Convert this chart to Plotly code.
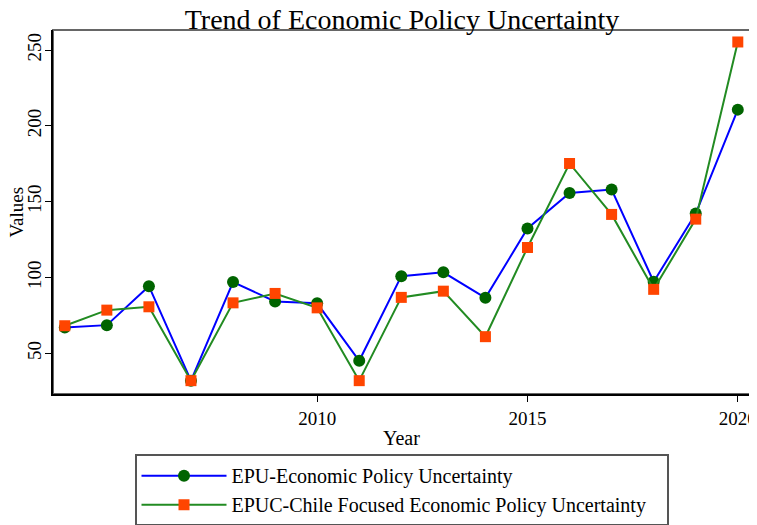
import plotly.graph_objects as go

years = list(range(2004, 2021))
epu = [67.1, 68.6, 94.3, 32.0, 97.0, 84.2, 83.0, 45.1, 100.9, 103.4, 86.6,
       132.3, 155.8, 158.0, 97.2, 142.2, 210.7]
epuc = [68.2, 78.5, 80.7, 32.0, 83.3, 89.5, 80.0, 32.0, 86.9, 91.0, 61.0,
        119.8, 175.2, 141.6, 92.2, 138.5, 255.3]

x_ticks = [2010, 2015, 2020]
y_ticks = [50, 100, 150, 200, 250]

font_family = "Liberation Serif, Times New Roman, serif"

fig = go.Figure()
fig.add_trace(go.Scatter(
    x=years, y=epu, mode="lines+markers",
    name="EPU-Economic Policy Uncertainty",
    line={"color": "#0000FF", "width": 2},
    marker={"color": "#006400", "size": 12, "symbol": "circle"},
))
fig.add_trace(go.Scatter(
    x=years, y=epuc, mode="lines+markers",
    name="EPUC-Chile Focused Economic Policy Uncertainty\u00a0\u00a0\u00a0",
    line={"color": "#228B22", "width": 2},
    marker={"color": "#FF4500", "size": 11, "symbol": "square"},
))

# grey frame on top/right, black axis lines on left/bottom
fig.add_shape(type="rect", xref="paper", yref="paper", x0=0, x1=1, y0=0, y1=1,
              line={"color": "#666666", "width": 2}, layer="below")

# axis titles as annotations so they don't push the margins
fig.add_annotation(text="Values", x=0, xref="paper", y=0.5, yref="paper",
                   xanchor="right", xshift=-25, textangle=-90, showarrow=False,
                   font={"size": 19})
fig.add_annotation(text="Year", x=0.5, xref="paper", y=0, yref="paper",
                   yanchor="top", yshift=-31, showarrow=False,
                   font={"size": 20})

# the page body adds an 8px offset, so the figure is 8px smaller than the window
fig.update_layout(
    width=749,
    height=517,
    font={"family": font_family, "color": "black", "size": 19},
    title={"text": "Trend of Economic Policy Uncertainty", "x": 0.526, "xanchor": "center",
           "y": 0.998, "yanchor": "top", "pad": {"t": 0}, "font": {"size": 28}},
    xaxis={
        "range": [2003.72, 2020.29],
        "tickvals": x_ticks,
        "tickfont": {"size": 19},
        "ticks": "outside", "ticklen": 6, "tickcolor": "black",
        "showline": True, "linecolor": "black", "linewidth": 2,
        "showgrid": False, "zeroline": False, "automargin": False,
    },
    yaxis={
        "range": [23.2, 263.2],
        "tickvals": y_ticks,
        "tickfont": {"size": 19},
        "tickangle": -90,
        "ticklabelstandoff": -4,
        "ticks": "outside", "ticklen": 6, "tickcolor": "black",
        "showline": True, "linecolor": "black", "linewidth": 2,
        "showgrid": False, "zeroline": False, "automargin": False,
    },
    legend={
        "orientation": "v", "x": 0.5, "xanchor": "center",
        "yref": "container", "y": 0.137, "yanchor": "top",
        "bordercolor": "#555555", "borderwidth": 2, "font": {"size": 20},
        "itemwidth": 85, "tracegroupgap": 0,
    },
    margin={"l": 45, "r": 7, "t": 22, "b": 131},
    paper_bgcolor="white",
    plot_bgcolor="white",
)

fig.write_html("out.html")
